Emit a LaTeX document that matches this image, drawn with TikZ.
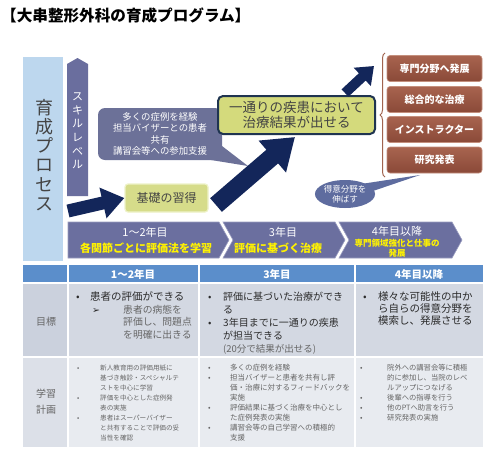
\documentclass[tikz,border=0pt]{standalone}
\usepackage{fontspec}
\setmainfont{Noto Sans CJK JP}
\newfontfamily\dejavu{DejaVu Sans}
\usetikzlibrary{shapes.geometric,arrows.meta,decorations.pathreplacing}
\definecolor{lightbar}{HTML}{BDD7EE}
\definecolor{slate}{HTML}{6A6E9E}
\definecolor{calloutc}{HTML}{6C7198}
\definecolor{navy}{HTML}{13265A}
\definecolor{greenfill}{HTML}{D6DC8A}
\definecolor{greenedge}{HTML}{EEF2C8}
\definecolor{bigfill}{HTML}{D4DA7C}
\definecolor{bigborder}{HTML}{1F3450}
\definecolor{browntop}{HTML}{A8644F}
\definecolor{brownbot}{HTML}{8A4938}
\definecolor{brownedge}{HTML}{C4907E}
\definecolor{bracec}{HTML}{A0644F}
\definecolor{ellc}{HTML}{5E6C9F}
\definecolor{chev}{HTML}{6B6F9F}
\definecolor{chevedge}{HTML}{9A9DC0}
\definecolor{yel}{HTML}{FFF200}
\definecolor{hdr}{HTML}{5B8ECB}
\definecolor{rowa}{HTML}{D3D8E2}
\definecolor{laba}{HTML}{CBD1DD}
\definecolor{rowb}{HTML}{E8EBF0}
\definecolor{labb}{HTML}{DCE0E8}
\definecolor{txta}{HTML}{2B2B2B}
\definecolor{txtb}{HTML}{666666}
\definecolor{txtdark}{HTML}{444444}
\newcommand\fsz[2]{\fontsize{#1}{#2}\selectfont}
\begin{document}
\begin{tikzpicture}[x=1pt,y=-1pt,
  vtext/.style={align=center,inner sep=0},
  calloutbox/.style={fill=calloutc,rounded corners=7pt,minimum width=124pt,minimum height=52pt,inner sep=0,align=center,text=white,font=\fsz{9.4}{11.3}},
  greenbox/.style={fill=greenfill,draw=greenedge,line width=1.2pt,rounded corners=3pt,minimum width=83pt,minimum height=28pt,inner sep=0,font=\fsz{12}{14},text=txtdark},
  bigbox/.style={fill=bigfill,draw=bigborder,line width=2pt,rounded corners=5pt,minimum width=157pt,minimum height=38pt,inner sep=0,align=center,font=\fsz{13.5}{15.5},text=txtdark},
  brownbox/.style={top color=browntop,bottom color=brownbot,draw=brownedge,line width=0.6pt,rounded corners=3pt,minimum width=95pt,minimum height=26pt,inner sep=0,text=white,font=\fsz{10}{12}\bfseries},
  ellbox/.style={ellipse,fill=ellc,minimum width=57pt,minimum height=28pt,inner sep=0,text=white,font=\fsz{8.5}{10},align=center},
  chevshape/.style={fill=chev,draw=chevedge,line width=0.6pt},
  chevw/.style={text=white,font=\fsz{11}{13},inner sep=0},
  chevy/.style={text=yel,font=\fsz{11}{13}\bfseries,inner sep=0},
  hdrtext/.style={text=white,font=\fsz{10.5}{12}\bfseries,inner sep=0},
  tbl/.style={anchor=north west,inner sep=0,align=left},
  labtext/.style={text=txtb,font=\fsz{10}{16},align=center,inner sep=0}
]
\useasboundingbox (0,0) rectangle (486,450);
\fill[white] (0,0) rectangle (486,450);

% title
\node[anchor=west,inner sep=0,font=\fsz{15.6}{18}\bfseries] (title) at (1,16) {【大串整形外科の育成プログラム】};

% left light bar
\fill[lightbar] (23,57) rectangle (63,261);
\node[vtext,font=\fsz{18}{19.2},text=txtdark] (ikusei) at (44,155) {育\\成\\プ\\ロ\\セ\\ス};

% skill level arrow
\fill[slate] (67,196) -- (67,64) -- (77.5,58) -- (88,64) -- (88,196) -- cycle;
\node[vtext,font=\fsz{11}{13.6},text=white] (skill) at (77.5,131) {ス\\キ\\ル\\レ\\ベ\\ル};

% callout
\fill[calloutc] (211,160) -- (222,146) -- (248,166) -- cycle;
\node[calloutbox] (cb) at (160,134) {多くの症例を経験\\担当バイザーとの患者\\共有\\講習会等への参加支援};

% boxes
\node[greenbox] (kiso) at (166.5,198) {基礎の習得};
\node[bigbox] (ichi) at (296.5,115) {一通りの疾患において\\治療結果が出せる};

% navy arrows
\coordinate (a1s) at (68,211);
\coordinate (a2s) at (216,205);
\coordinate (a2e) at (295,137);
\coordinate (a3s) at (345,93);
\coordinate (a3e) at (374,66);
\draw[draw=navy,line width=13pt,-{Triangle[width=30pt,length=22pt,fill=navy]}] (a1s) -- (kiso.west);
\draw[draw=navy,line width=18pt,-{Triangle[width=40pt,length=30pt,fill=navy]}] (a2s) -- (a2e);
\draw[draw=navy,line width=10pt,-{Triangle[width=24pt,length=16pt,fill=navy]}] (a3s) -- (a3e);

% brace
\coordinate (brb) at (385,177);
\coordinate (brt) at (385,53);
\draw[bracec,line width=1pt,decorate,decoration={brace,amplitude=5pt}] (brb) -- (brt);

% brown boxes
\node[brownbox] (b1) at (434.5,68.5) {専門分野へ発展};
\node[brownbox] (b2) at (434.5,99.5) {総合的な治療};
\node[brownbox] (b3) at (434.5,129.5) {インストラクター};
\node[brownbox] (b4) at (434.5,160) {研究発表};

% ellipse callout
\fill[ellc] (361,184) -- (370,192) -- (420,175) -- cycle;
\node[ellbox] (el) at (345,194) {得意分野を\\伸ばす};

% chevrons
\fill[chevshape] (68,222) -- (219,222) -- (229,240) -- (219,258) -- (68,258) -- cycle;
\fill[chevshape] (223,222) -- (335,222) -- (345,240) -- (335,258) -- (223,258) -- (233,240) -- cycle;
\fill[chevshape] (339,222) -- (452,222) -- (462,240) -- (452,258) -- (339,258) -- (349,240) -- cycle;
\node[chevw] (c1a) at (145,232) {1～2年目};
\node[chevy] (c1b) at (146,248) {各関節ごとに評価法を学習};
\node[chevw] (c2a) at (283,232) {3年目};
\node[chevy] (c2b) at (278,248) {評価に基づく治療};
\node[chevw] (c3a) at (397,231) {4年目以降};
\node[chevy,font=\fsz{8.5}{10}\bfseries,align=center] (c3b) at (397,248) {専門領域強化と仕事の\\発展};

% table
\fill[hdr] (23,265) rectangle (483,283);
\fill[laba] (23,283) rectangle (68,357);
\fill[rowa] (68,283) rectangle (483,357);
\fill[labb] (23,357) rectangle (68,447);
\fill[rowb] (68,357) rectangle (483,447);
\draw[white,line width=1.5pt] (68,265) -- (68,447) (199,265) -- (199,447) (355,265) -- (355,447)
  (23,283) -- (483,283) (23,357) -- (483,357);
\node[hdrtext] (h1) at (133,274) {1～2年目};
\node[hdrtext] (h2) at (277,274) {3年目};
\node[hdrtext] (h3) at (419,274) {4年目以降};
\node[labtext] (lab1) at (46,322) {目標};
\node[labtext] (lab2) at (46,402) {学習\\計画};

% row 1
\node[tbl,font=\fsz{10.5}{12.5},text=txta] (r1c1a) at (76,291.5) {\makebox[14pt][l]{•}患者の評価ができる};
\node[tbl,font=\fsz{9.8}{12.5},text=txtb] (r1c1b) at (92,305) {\makebox[31pt][l]{{\dejavu\fontsize{9.5}{10}\selectfont\color{txta}➢}}患者の病態を\\\hspace*{31pt}評価し、問題点\\\hspace*{31pt}を明確に出きる};
\node[tbl,font=\fsz{10}{13},text=txta] (r1c2) at (208,292) {\makebox[15pt][l]{•}評価に基づいた治療ができ\\\hspace*{15pt}る\\\makebox[15pt][l]{•}3年目までに一通りの疾患\\\hspace*{15pt}が担当できる\\\hspace*{15pt}{\color{txtb}\fsz{9.5}{13}(20分で結果が出せる)}};
\node[tbl,font=\fsz{10.5}{12},text=txta] (r1c3) at (363,291.5) {\makebox[15pt][l]{•}様々な可能性の中か\\\hspace*{15pt}ら自らの得意分野を\\\hspace*{15pt}模索し、発展させる};

% row 2
\node[tbl,font=\fsz{6.6}{10},text=txtb] (r2c1) at (77,364.7) {\makebox[23pt][l]{•}新人教育用の評価用紙に\\\hspace*{23pt}基づき触診・スペシャルテ\\\hspace*{23pt}ストを中心に学習\\\makebox[23pt][l]{•}評価を中心とした症例発\\\hspace*{23pt}表の実施\\\makebox[23pt][l]{•}患者はスーパーバイザー\\\hspace*{23pt}と共有することで評価の妥\\\hspace*{23pt}当性を確認};
\node[tbl,font=\fsz{7.5}{10},text=txtb] (r2c2) at (208,364.2) {\makebox[22pt][l]{•}多くの症例を経験\\\makebox[22pt][l]{•}担当バイザーと患者を共有し評\\\hspace*{22pt}価・治療に対するフィードバックを\\\hspace*{22pt}実施\\\makebox[22pt][l]{•}評価結果に基づく治療を中心とし\\\hspace*{22pt}た症例発表の実施\\\makebox[22pt][l]{•}講習会等の自己学習への積極的\\\hspace*{22pt}支援};
\node[tbl,font=\fsz{7.3}{10},text=txtb] (r2c3) at (360,364.3) {\makebox[27pt][l]{•}院外への講習会等に積極\\\hspace*{27pt}的に参加し、当院のレベ\\\hspace*{27pt}ルアップにつなげる\\\makebox[27pt][l]{•}後輩への指導を行う\\\makebox[27pt][l]{•}他のPTへ助言を行う\\\makebox[27pt][l]{•}研究発表の実施};
\end{tikzpicture}
\end{document}
